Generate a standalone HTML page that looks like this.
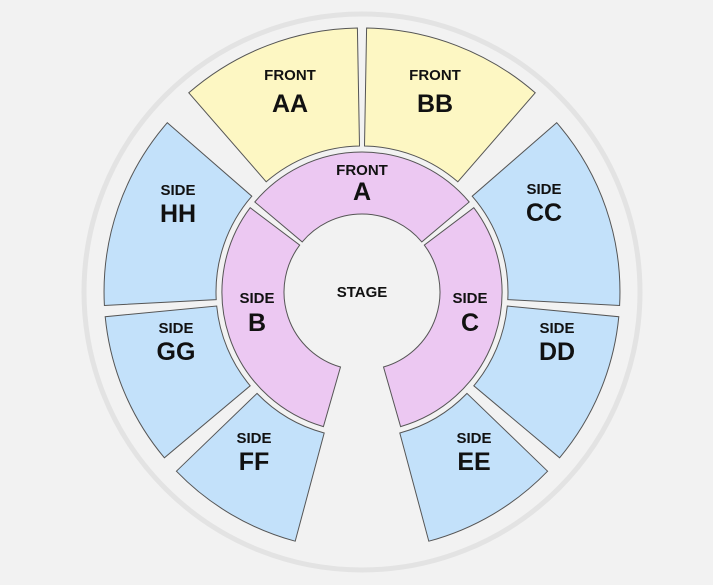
<!DOCTYPE html><html><head><style>body{margin:0;background:#f2f2f2}svg{display:block}text{font-family:"Liberation Sans",sans-serif;font-weight:bold;text-anchor:middle;fill:#111}</style></head><body>
<svg id="s" width="713" height="585" viewBox="0 0 713 585">
<circle cx="362" cy="292" r="278" fill="none" stroke="#e3e3e3" stroke-width="5"/>
<g id="g" stroke="#555" stroke-width="1"></g>
<g font-size="15">
<text x="290" y="80">FRONT</text><text x="435" y="80">FRONT</text><text x="362" y="175">FRONT</text>
<text x="178" y="195">SIDE</text><text x="544" y="194">SIDE</text><text x="176" y="333">SIDE</text><text x="557" y="333">SIDE</text>
<text x="254" y="443">SIDE</text><text x="474" y="443">SIDE</text><text x="257" y="303">SIDE</text><text x="470" y="303">SIDE</text>
<text x="362" y="297">STAGE</text></g>
<g font-size="25">
<text x="290" y="112">AA</text><text x="435" y="112">BB</text><text x="362" y="200">A</text>
<text x="178" y="222">HH</text><text x="544" y="221">CC</text><text x="176" y="360">GG</text><text x="557" y="360">DD</text>
<text x="254" y="470">FF</text><text x="474" y="470">EE</text><text x="257" y="331">B</text><text x="470" y="331">C</text></g>
</svg>
<script>
var cx=362,cy=292,g=document.getElementById('g');
function p(a,r){a=a*Math.PI/180;return [(cx+r*Math.sin(a)).toFixed(1),(cy-r*Math.cos(a)).toFixed(1)];}
function sec(a1,a2,r1,r2,f){var A=p(a1,r2),B=p(a2,r2),C=p(a2,r1),D=p(a1,r1);
var d='M'+A+' A'+r2+' '+r2+' 0 0 1 '+B+' L'+C+' A'+r1+' '+r1+' 0 0 0 '+D+'Z';
var e=document.createElementNS('http://www.w3.org/2000/svg','path');e.setAttribute('d',d);e.setAttribute('fill',f);g.appendChild(e);}
var Y='#fdf7c3',L='#c3e1fa',P='#ecc8f2';
sec(-41,-1,146,264,Y);sec(1,41,146,264,Y);
sec(49,93,146,258,L);sec(95.5,130,146,258,L);sec(134,165,146,258,L);
sec(-93,-49,146,258,L);sec(-130,-95.5,146,258,L);sec(-165,-134,146,258,L);
sec(-50,50,78,140,P);sec(53,164,78,140,P);sec(196,307,78,140,P);
</script>
</body></html>
